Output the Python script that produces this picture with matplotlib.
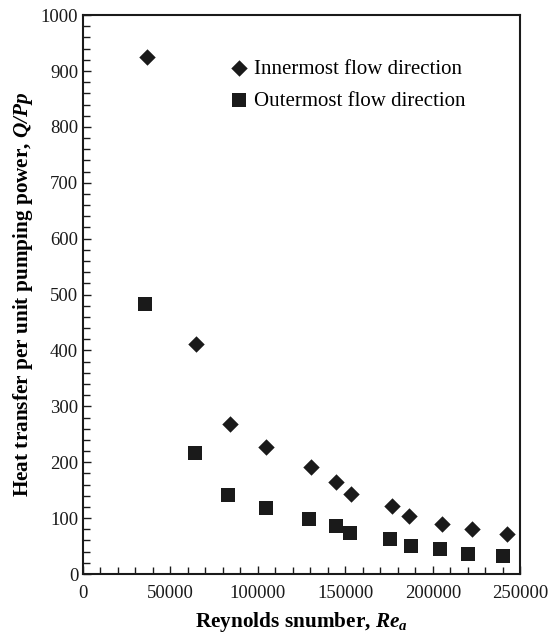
import numpy as np
import matplotlib.pyplot as plt
from matplotlib.ticker import MultipleLocator

# Innermost flow direction
re_inner = [36600, 64500, 84100, 104700, 130400, 144700, 153500, 176800, 186300, 205400, 222200, 242700]
qp_inner = [925, 412, 269, 227, 191, 165, 144, 121, 103, 89, 81, 71]

# Outermost flow direction
re_outer = [35500, 64100, 83100, 104700, 129300, 144700, 152400, 175600, 187500, 204200, 220100, 239900]
qp_outer = [484, 216, 142, 119, 98, 86, 74, 62, 51, 44, 36, 32]

plt.rcParams['font.family'] = 'Liberation Serif'
plt.rcParams['mathtext.fontset'] = 'custom'
plt.rcParams['mathtext.rm'] = 'Liberation Serif'
plt.rcParams['mathtext.it'] = 'Liberation Serif:italic'
plt.rcParams['mathtext.bf'] = 'Liberation Serif:bold'
plt.rcParams['mathtext.bfit'] = 'Liberation Serif:bold:italic'

fig = plt.figure(figsize=(5.57, 6.38), dpi=100)
ax = fig.add_axes([0.149, 0.1003, 0.785, 0.876])

col = '#1a1a1a'
ax.scatter(re_inner, qp_inner, marker='D', s=70, color=col, linewidths=0, label='Innermost flow direction')
ax.scatter(re_outer, qp_outer, marker='s', s=95, color=col, linewidths=0, label='Outermost flow direction')

ax.set_xlim(0, 250000)
ax.set_ylim(0, 1000)
ax.xaxis.set_major_locator(MultipleLocator(50000))
ax.xaxis.set_minor_locator(MultipleLocator(10000))
ax.yaxis.set_major_locator(MultipleLocator(100))
ax.yaxis.set_minor_locator(MultipleLocator(20))
ax.tick_params(which='both', direction='in', labelsize=13.5, colors=col, width=1)
ax.tick_params(which='major', length=6)
ax.tick_params(which='minor', length=5)
ax.tick_params(axis='x', pad=8)
for s in ax.spines.values():
    s.set_linewidth(1.5)
    s.set_color(col)

ax.set_xlabel(r'Reynolds snumber, $\mathbfit{Re}_{\mathbfit{a}}$', fontsize=15.3, fontweight='bold', labelpad=6)
ax.set_ylabel(r'Heat transfer per unit pumping power, $\mathbfit{Q/Pp}$', fontsize=15.3, fontweight='bold', labelpad=4)

leg = ax.legend(loc='upper left', bbox_to_anchor=(0.285, 0.955), frameon=False, fontsize=15,
                handletextpad=0.15, labelspacing=0.6, handlelength=1.2, scatterpoints=1)

fig.savefig('out.png', dpi=100)
